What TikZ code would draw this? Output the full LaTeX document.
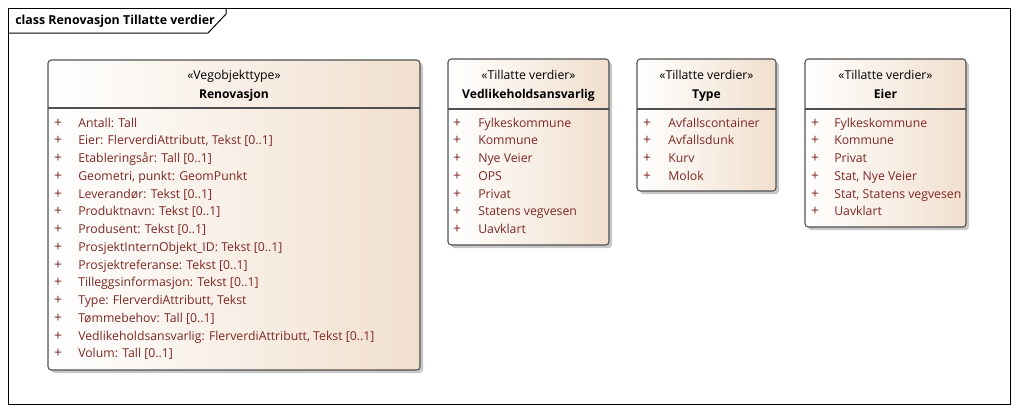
\documentclass[tikz,border=0pt]{standalone}
\usepackage{fontspec}
\setmainfont{Open Sans}
\definecolor{attrtext}{RGB}{125,40,35}
\definecolor{boxline}{RGB}{80,80,80}
\definecolor{boxfill}{RGB}{241,223,206}
\definecolor{boxshadow}{RGB}{200,200,200}
\tikzset{
  classbox/.style={draw=boxline, line width=0.8pt, rounded corners=2.5pt, left color=white, right color=boxfill, shading angle=90},
  classshadow/.style={fill=boxshadow, rounded corners=2.5pt, draw=none},
  stereo/.style={inner sep=0pt, anchor=base, font=\fontsize{9.2}{11}\selectfont},
  classname/.style={inner sep=0pt, anchor=base, font=\fontsize{9.1}{11}\selectfont\bfseries},
  plussign/.style={inner sep=0pt, anchor=base, text=attrtext, font=\fontsize{10.4}{11}\selectfont},
  attr/.style={inner sep=0pt, anchor=base west, text=attrtext, font=\fontsize{9.2}{11}\selectfont},
}
\begin{document}
\begin{tikzpicture}[x=0.75pt,y=0.75pt,yscale=-1,xscale=1]
\useasboundingbox (0,0) rectangle (1018,414);
\fill[white] (0,0) rectangle (1018,414);

%Shape: Frame
\draw [line width=0.75pt] (8,8) rectangle (1010,404);
\draw [line width=0.75pt] (8,33) -- (208,33) -- (226,14) -- (226,8) ;
% Text Node
\node [inner sep=0pt, anchor=base west, font=\fontsize{9.3}{11}\selectfont\bfseries] (frameTitle) at (15,25) {class Renovasjon Tillatte verdier};

%Shape: Class Renovasjon
\path [classshadow] (51,63) rectangle (423,373);
\draw [classbox] (48,60) rectangle (420,370);
\draw [boxline, line width=0.8pt] (48,108) -- (420,108);
% Text Node
\node [stereo] (renStereo) at (234,79) {«Vegobjekttype»};
\node [classname] (renName) at (234,98) {Renovasjon};
% Text Node
\node [plussign] (renP1) at (58,127) {+};
\node [attr] (renA1) at (78,127) {Antall: Tall};
\node [plussign] (renP2) at (58,144.75) {+};
\node [attr] (renA2) at (78,144.75) {Eier: FlerverdiAttributt, Tekst [0..1]};
\node [plussign] (renP3) at (58,162.5) {+};
\node [attr] (renA3) at (78,162.5) {Etableringsår: Tall [0..1]};
\node [plussign] (renP4) at (58,180.25) {+};
\node [attr] (renA4) at (78,180.25) {Geometri, punkt: GeomPunkt};
\node [plussign] (renP5) at (58,198) {+};
\node [attr] (renA5) at (78,198) {Leverandør: Tekst [0..1]};
\node [plussign] (renP6) at (58,215.75) {+};
\node [attr] (renA6) at (78,215.75) {Produktnavn: Tekst [0..1]};
\node [plussign] (renP7) at (58,233.5) {+};
\node [attr] (renA7) at (78,233.5) {Produsent: Tekst [0..1]};
\node [plussign] (renP8) at (58,251.25) {+};
\node [attr] (renA8) at (78,251.25) {ProsjektInternObjekt\_ID: Tekst [0..1]};
\node [plussign] (renP9) at (58,269) {+};
\node [attr] (renA9) at (78,269) {Prosjektreferanse: Tekst [0..1]};
\node [plussign] (renP10) at (58,286.75) {+};
\node [attr] (renA10) at (78,286.75) {Tilleggsinformasjon: Tekst [0..1]};
\node [plussign] (renP11) at (58,304.5) {+};
\node [attr] (renA11) at (78,304.5) {Type: FlerverdiAttributt, Tekst};
\node [plussign] (renP12) at (58,322.25) {+};
\node [attr] (renA12) at (78,322.25) {Tømmebehov: Tall [0..1]};
\node [plussign] (renP13) at (58,340) {+};
\node [attr] (renA13) at (78,340) {Vedlikeholdsansvarlig: FlerverdiAttributt, Tekst [0..1]};
\node [plussign] (renP14) at (58,357.75) {+};
\node [attr] (renA14) at (78,357.75) {Volum: Tall [0..1]};

%Shape: Class Vedlikeholdsansvarlig
\path [classshadow] (451,62) rectangle (612,248);
\draw [classbox] (448,59) rectangle (609,245);
\draw [boxline, line width=0.8pt] (448,109) -- (609,109);
% Text Node
\node [stereo] (vedStereo) at (528.5,79) {«Tillatte verdier»};
\node [classname] (vedName) at (528.5,98) {Vedlikeholdsansvarlig};
% Text Node
\node [plussign] (vedP1) at (457,127) {+};
\node [attr] (vedA1) at (478,127) {Fylkeskommune};
\node [plussign] (vedP2) at (457,144.75) {+};
\node [attr] (vedA2) at (478,144.75) {Kommune};
\node [plussign] (vedP3) at (457,162.5) {+};
\node [attr] (vedA3) at (478,162.5) {Nye Veier};
\node [plussign] (vedP4) at (457,180.25) {+};
\node [attr] (vedA4) at (478,180.25) {OPS};
\node [plussign] (vedP5) at (457,198) {+};
\node [attr] (vedA5) at (478,198) {Privat};
\node [plussign] (vedP6) at (457,215.75) {+};
\node [attr] (vedA6) at (478,215.75) {Statens vegvesen};
\node [plussign] (vedP7) at (457,233.5) {+};
\node [attr] (vedA7) at (478,233.5) {Uavklart};

%Shape: Class Type
\path [classshadow] (640,62) rectangle (779,194);
\draw [classbox] (637,59) rectangle (776,191);
\draw [boxline, line width=0.8pt] (637,109) -- (776,109);
% Text Node
\node [stereo] (typStereo) at (706.5,79) {«Tillatte verdier»};
\node [classname] (typName) at (706.5,98) {Type};
% Text Node
\node [plussign] (typP1) at (647,127) {+};
\node [attr] (typA1) at (668,127) {Avfallscontainer};
\node [plussign] (typP2) at (647,144.75) {+};
\node [attr] (typA2) at (668,144.75) {Avfallsdunk};
\node [plussign] (typP3) at (647,162.5) {+};
\node [attr] (typA3) at (668,162.5) {Kurv};
\node [plussign] (typP4) at (647,180.25) {+};
\node [attr] (typA4) at (668,180.25) {Molok};

%Shape: Class Eier
\path [classshadow] (808,62) rectangle (969,230);
\draw [classbox] (805,59) rectangle (966,227);
\draw [boxline, line width=0.8pt] (805,109) -- (966,109);
% Text Node
\node [stereo] (eieStereo) at (885.5,79) {«Tillatte verdier»};
\node [classname] (eieName) at (885.5,98) {Eier};
% Text Node
\node [plussign] (eieP1) at (815,127) {+};
\node [attr] (eieA1) at (834,127) {Fylkeskommune};
\node [plussign] (eieP2) at (815,144.75) {+};
\node [attr] (eieA2) at (834,144.75) {Kommune};
\node [plussign] (eieP3) at (815,162.5) {+};
\node [attr] (eieA3) at (834,162.5) {Privat};
\node [plussign] (eieP4) at (815,180.25) {+};
\node [attr] (eieA4) at (834,180.25) {Stat, Nye Veier};
\node [plussign] (eieP5) at (815,198) {+};
\node [attr] (eieA5) at (834,198) {Stat, Statens vegvesen};
\node [plussign] (eieP6) at (815,215.75) {+};
\node [attr] (eieA6) at (834,215.75) {Uavklart};

\end{tikzpicture}
\end{document}
